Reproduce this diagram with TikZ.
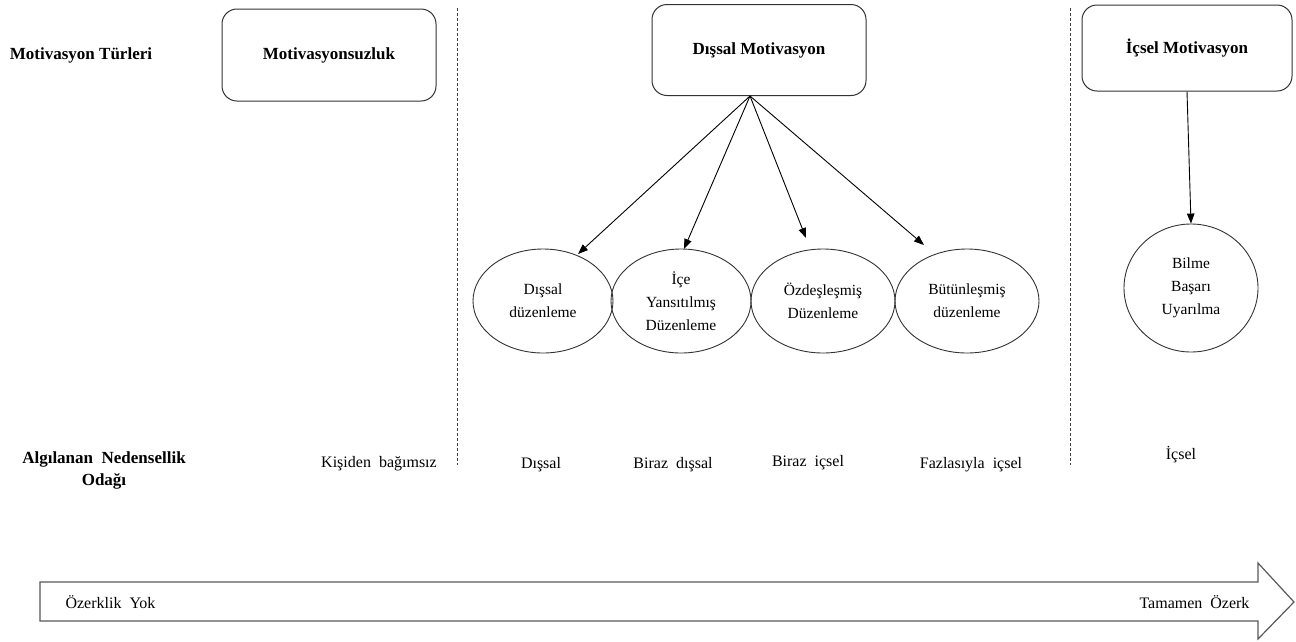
\documentclass[tikz,border=0pt]{standalone}
\usepackage{fontspec}
\setmainfont{Liberation Serif}
\usetikzlibrary{shapes.geometric,arrows.meta}

\tikzset{
  title/.style={font=\fontsize{17}{22}\selectfont\bfseries, align=center},
  kind/.style={draw=black!80, line width=1pt, rounded corners=15pt,
    font=\fontsize{17}{20}\selectfont\bfseries, inner sep=0pt},
  reg/.style={draw=black!80, line width=0.9pt, ellipse, inner sep=0pt,
    minimum width=140pt, minimum height=104pt,
    font=\fontsize{15.5}{23}\selectfont, align=center},
  locus/.style={font=\fontsize{16}{20}\selectfont},
  sep/.style={draw=black!75, line width=1pt, dash pattern=on 3pt off 2pt},
  arr/.style={draw=black, line width=0.9pt,
    -{Triangle[length=10pt,width=7.5pt]}},
  band/.style={draw=black!65, line width=1.2pt, fill=white}
}

\begin{document}
\begin{tikzpicture}[x=1pt,y=-1pt]
\useasboundingbox[fill=white] (0,0) rectangle (1296,641);

% row headings
\node[title] (h1) at (81,55) {Motivasyon Türleri};
\node[title] (h2) at (104,470) {Algılanan\ \ Nedensellik\\Odağı};

% motivation types
\node[kind, minimum width=214pt, minimum height=92pt] (am) at (329,55) {Motivasyonsuzluk};
\node[kind, minimum width=214pt, minimum height=91pt] (dm) at (759,50) {Dışsal Motivasyon};
\node[kind, minimum width=210pt, minimum height=86pt] (im) at (1187,48) {İçsel Motivasyon};

% separators
\coordinate (s1a) at (457,8);  \coordinate (s1b) at (457,465);
\coordinate (s2a) at (1070,8); \coordinate (s2b) at (1070,465);
\draw[sep] (s1a) -- (s1b);
\draw[sep] (s2a) -- (s2b);

% regulation styles
\node[reg] (e1) at (543,301) {Dışsal\\düzenleme};
\node[reg] (e2) at (681,301) {İçe\\Yansıtılmış\\Düzenleme};
\node[reg, minimum width=144pt] (e3) at (823,301) {Özdeşleşmiş\\Düzenleme};
\node[reg, minimum width=144pt] (e4) at (967,301) {Bütünleşmiş\\düzenleme};
\node[reg, minimum width=134pt, minimum height=128pt] (e5) at (1191,288) {Bilme\\Başarı\\Uyarılma};

% connectors
\coordinate (apex) at ([xshift=-9pt]dm.south);
\coordinate (t1) at (578,254);
\coordinate (t2) at (684,249);
\coordinate (t3) at (806,238);
\coordinate (t4) at (924,245);
\draw[arr] (apex) -- (t1);
\draw[arr] (apex) -- (t2);
\draw[arr] (apex) -- (t3);
\draw[arr] (apex) -- (t4);
\draw[arr] (im.south) -- (e5.north);

% perceived locus of causality
\node[locus] (l0) at (379,464) {Kişiden\ \ bağımsız};
\node[locus] (l1) at (541,465) {Dışsal};
\node[locus] (l2) at (673,465) {Biraz\ \ dışsal};
\node[locus] (l3) at (808,463) {Biraz\ \ içsel};
\node[locus] (l4) at (971,465) {Fazlasıyla\ \ içsel};
\node[locus] (l5) at (1181,455) {İçsel};

% autonomy continuum
\draw[band] (40,582) -- (1258,582) -- (1258,563) -- (1294,602)
  -- (1258,639) -- (1258,621) -- (40,621) -- cycle;
\node[locus, anchor=west] (a0) at (62,602) {Özerklik\ \ Yok};
\node[locus, anchor=east] (a1) at (1253,602) {Tamamen\ \ Özerk};
\end{tikzpicture}
\end{document}
